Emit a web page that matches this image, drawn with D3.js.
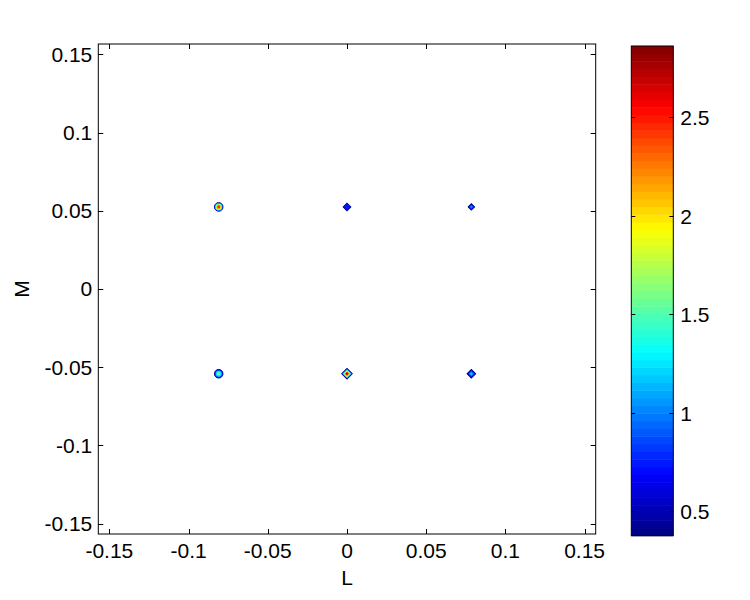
<!DOCTYPE html>
<html><head><meta charset="utf-8">
<script src="https://cdn.jsdelivr.net/npm/d3@7"></script>
<style>body{margin:0;background:#fff}svg{display:block}text{font-family:"Liberation Sans",Arial,sans-serif}</style>
</head><body><svg id="c" width="750" height="600"></svg>
<script>
const xTicks = [-0.15, -0.1, -0.05, 0, 0.05, 0.1, 0.15];
const yTicks = [-0.15, -0.1, -0.05, 0, 0.05, 0.1, 0.15];
const cTicks = [0.5, 1, 1.5, 2, 2.5];
const xDomain = [-0.157, 0.157];
const yDomain = [-0.1567, 0.1567];
const cDomain = [0.376, 2.862];
// peaks (contour spots)
const blobL = [-0.081, 0, 0.0785, -0.081, 0, 0.0785];
const blobM = [0.0525, 0.0525, 0.0525, -0.0542, -0.0542, -0.0542];
const blobPeak = [2.6, 0.9, 1.15, 1.7, 2.65, 1.25];
const blobRadius = [0.0027, 0.0024, 0.0020, 0.0027, 0.0033, 0.0027];
const blobShape = ["circle", "diamond", "diamond", "circle", "diamond", "diamond"];
const contourLevels = [0.42, 0.7, 0.95, 1.2, 1.5, 1.8, 2.1, 2.4, 2.6];

function jet(t){ // t in [0,1]
  const r = Math.max(0, Math.min(1, Math.min(4*t-1.5, -4*t+4.5)));
  const g = Math.max(0, Math.min(1, Math.min(4*t-0.5, -4*t+3.5)));
  const b = Math.max(0, Math.min(1, Math.min(4*t+0.5, -4*t+2.5)));
  return d3.rgb(r*255, g*255, b*255).toString();
}
const N = 64;
function cmap(v){
  let t = (v - cDomain[0])/(cDomain[1]-cDomain[0]);
  let k = Math.max(0, Math.min(N-1, Math.floor(t*N)));
  return jet((k+0.5)/N);
}

const svg = d3.select("#c");
const m = {l:98.3, t:44, r:595.7, b:534};
const x = d3.scaleLinear().domain(xDomain).range([m.l, m.r]);
const y = d3.scaleLinear().domain(yDomain).range([m.b, m.t]);
const fs = 21;

// plot box
svg.append("rect").attr("x",m.l).attr("y",m.t).attr("width",m.r-m.l).attr("height",m.b-m.t)
  .attr("fill","#fff").attr("stroke","#000").attr("stroke-width",1);

// blobs
const gB = svg.append("g");
blobL.forEach((L,i)=>{
  const peak = blobPeak[i];
  const levels = contourLevels.filter(l=>l<peak);
  levels.forEach((lev,j)=>{
    const frac = Math.sqrt(Math.max(0.08, 1 - (lev-contourLevels[0])/(peak-contourLevels[0])));
    const rpx = (x(blobRadius[i]) - x(0))*frac;
    const cx = x(L), cy = y(blobM[i]);
    const col = j===0 ? cmap(0.75) : cmap(lev+0.05);
    const st = j===0 ? "#00008f" : "none";
    if(blobShape[i]==="circle"){
      gB.append("circle").attr("cx",cx).attr("cy",cy).attr("r",rpx).attr("fill",col)
        .attr("stroke", st).attr("stroke-width",1);
    } else {
      gB.append("path").attr("transform",`translate(${cx},${cy}) rotate(45)`)
        .attr("d", d3.symbol(d3.symbolSquare, 2*rpx*rpx)()).attr("fill",col)
        .attr("stroke", st).attr("stroke-width",1);
    }
  });
});

// ticks
const tl = 5;
const gT = svg.append("g").attr("stroke","#000").attr("stroke-width",1);
xTicks.forEach(v=>{
  const px = Math.round(x(v))+0.5;
  gT.append("line").attr("x1",px).attr("x2",px).attr("y1",m.b).attr("y2",m.b-tl);
  gT.append("line").attr("x1",px).attr("x2",px).attr("y1",m.t).attr("y2",m.t+tl);
});
yTicks.forEach(v=>{
  const py = Math.round(y(v))+0.5;
  gT.append("line").attr("x1",m.l).attr("x2",m.l+tl).attr("y1",py).attr("y2",py);
  gT.append("line").attr("x1",m.r).attr("x2",m.r-tl).attr("y1",py).attr("y2",py);
});
const fmt = v => (v===0?"0":String(v));
svg.append("g").selectAll("text").data(xTicks).join("text")
  .attr("x",d=>x(d)).attr("y",558).attr("text-anchor","middle").attr("font-size",fs).text(fmt);
svg.append("g").selectAll("text").data(yTicks).join("text")
  .attr("x",m.l-6).attr("y",d=>y(d)).attr("dy","0.35em").attr("text-anchor","end").attr("font-size",fs).text(fmt);

svg.append("text").attr("x",(m.l+m.r)/2).attr("y",585).attr("text-anchor","middle").attr("font-size",fs).text("L");
svg.append("text").attr("transform",`translate(29,${(m.t+m.b)/2}) rotate(-90)`).attr("text-anchor","middle").attr("font-size",fs).text("M");

// colorbar
const cb = {l:631.3, r:673.3, t:46, b:535.7};
const cy = d3.scaleLinear().domain(cDomain).range([cb.b, cb.t]);
const gC = svg.append("g");
for(let k=0;k<N;k++){
  const v0 = cDomain[0] + (cDomain[1]-cDomain[0])*k/N;
  const v1 = cDomain[0] + (cDomain[1]-cDomain[0])*(k+1)/N;
  gC.append("rect").attr("x",cb.l).attr("width",cb.r-cb.l)
    .attr("y",cy(v1)).attr("height",cy(v0)-cy(v1)+0.5).attr("fill",jet((k+0.5)/N));
}
gC.append("rect").attr("x",cb.l).attr("y",cb.t).attr("width",cb.r-cb.l).attr("height",cb.b-cb.t)
  .attr("fill","none").attr("stroke","#000");
cTicks.forEach(v=>{
  const py = Math.round(cy(v))+0.5;
  gC.append("line").attr("x1",cb.l).attr("x2",cb.l+4).attr("y1",py).attr("y2",py).attr("stroke","#000");
  gC.append("line").attr("x1",cb.r).attr("x2",cb.r-4).attr("y1",py).attr("y2",py).attr("stroke","#000");
  gC.append("text").attr("x",cb.r+7).attr("y",py).attr("dy","0.35em").attr("font-size",fs).text(String(v));
});
</script></body></html>
